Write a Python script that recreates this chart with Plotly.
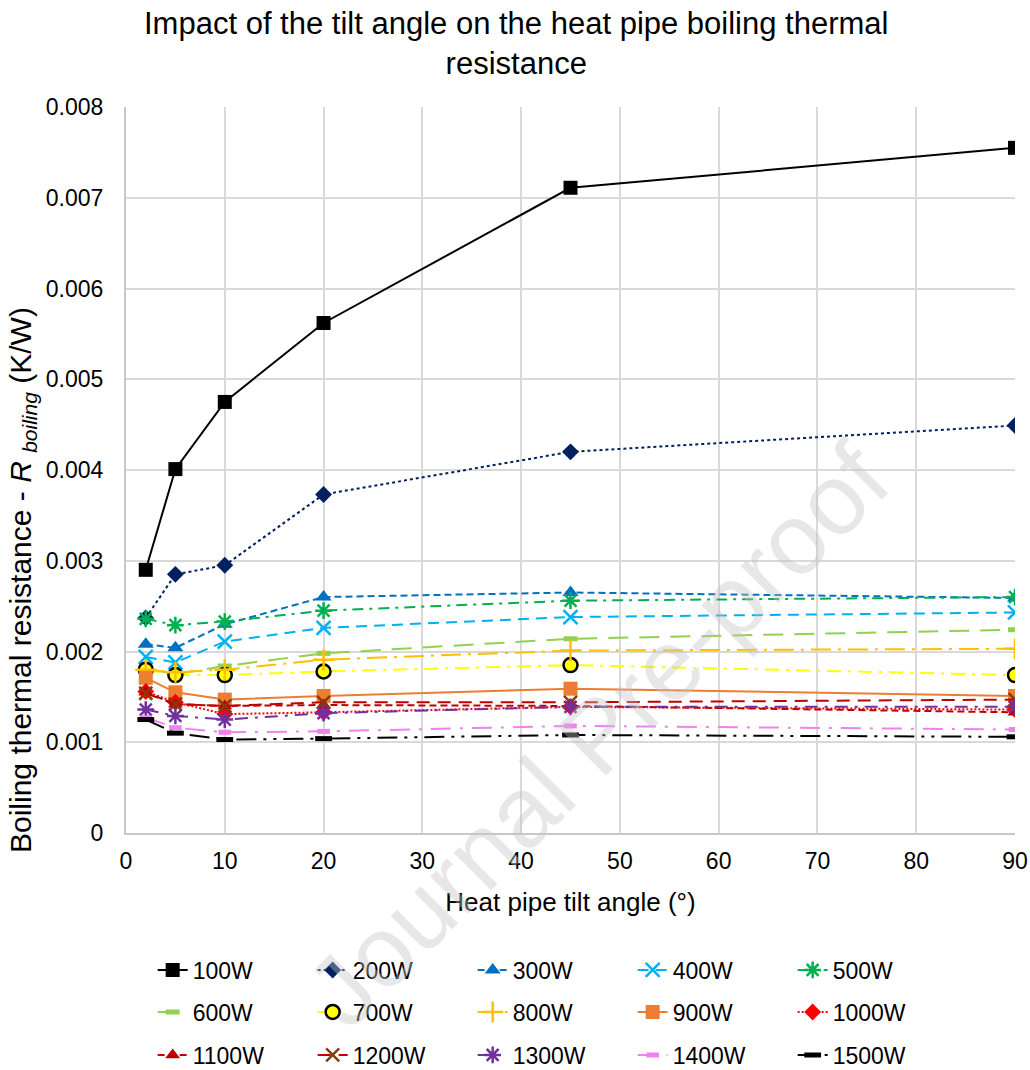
import plotly.graph_objects as go

# Tilt angles (degrees) at which the boiling resistance was measured
tilt_angle = [2, 5, 10, 20, 45, 90]

# Boiling thermal resistance (K/W) for each heat input
r_100w = [0.00290, 0.00401, 0.00475, 0.00562, 0.00711, 0.00755]
r_200w = [0.00237, 0.00285, 0.00295, 0.00373, 0.00420, 0.00449]
r_300w = [0.00208, 0.00204, 0.00230, 0.00260, 0.00265, 0.00259]
r_400w = [0.00194, 0.00188, 0.00211, 0.00226, 0.00238, 0.00243]
r_500w = [0.00236, 0.00229, 0.00233, 0.00245, 0.00256, 0.00260]
r_600w = [0.00181, 0.00175, 0.00184, 0.00198, 0.00214, 0.00224]
r_700w = [0.00180, 0.00174, 0.00174, 0.00178, 0.00185, 0.00174]
r_800w = [0.00180, 0.00177, 0.00180, 0.00191, 0.00201, 0.00203]
r_900w = [0.00171, 0.00155, 0.00147, 0.00151, 0.00159, 0.00151]
r_1000w = [0.00156, 0.00144, 0.00131, 0.00133, 0.00139, 0.00136]
r_1100w = [0.00155, 0.00142, 0.00140, 0.00141, 0.00140, 0.00133]
r_1200w = [0.00154, 0.00142, 0.00140, 0.00144, 0.00144, 0.00147]
r_1300w = [0.00136, 0.00129, 0.00125, 0.00132, 0.00139, 0.00139]
r_1400w = [0.00127, 0.00116, 0.00111, 0.00112, 0.00118, 0.00114]
r_1500w = [0.00125, 0.00110, 0.00103, 0.00104, 0.00108, 0.00106]

series_names = ["100W", "200W", "300W", "400W", "500W",
                "600W", "700W", "800W", "900W", "1000W",
                "1100W", "1200W", "1300W", "1400W", "1500W"]
series_values = [r_100w, r_200w, r_300w, r_400w, r_500w,
                 r_600w, r_700w, r_800w, r_900w, r_1000w,
                 r_1100w, r_1200w, r_1300w, r_1400w, r_1500w]

x_ticks = [0, 10, 20, 30, 40, 50, 60, 70, 80, 90]
y_ticks = [0, 0.001, 0.002, 0.003, 0.004, 0.005, 0.006, 0.007, 0.008]
y_tick_labels = ["0", "0.001", "0.002", "0.003", "0.004", "0.005", "0.006", "0.007", "0.008"]

# (line colour, dash, marker symbol, marker fill, marker outline, marker size, outline width)
styles = [
    ("#000000", "solid", "square", "#000000", "#000000", 14, 0),
    ("#002060", "dot", "diamond", "#002060", "#002060", 13, 0),
    ("#0070C0", "7px,4px", "triangle-up", "#0070C0", "#0070C0", 14, 0),
    ("#00B0F0", "11px,7px", "x-thin-open", "#00B0F0", "#00B0F0", 14, 2.5),
    ("#00B050", "11px,6px,3px,6px", "asterisk-open", "#00B050", "#00B050", 14, 2.5),
    ("#92D050", "20px,11px", "line-ew-open", "#92D050", "#92D050", 10, 5),
    ("#FFFF00", "14px,7px,3px,7px", "circle", "#FFFF00", "#000000", 14, 2.5),
    ("#FFC000", "20px,7px,3px,7px", "cross-thin-open", "#FFC000", "#FFC000", 15, 2.5),
    ("#ED7D31", "solid", "square", "#ED7D31", "#ED7D31", 14, 0),
    ("#FF0000", "2px,2px", "diamond", "#FF0000", "#FF0000", 13, 0),
    ("#C00000", "7px,4px", "triangle-up", "#C00000", "#C00000", 13, 0),
    ("#C00000", "13px,8px", "x-thin-open", "#843C0C", "#843C0C", 13, 2.5),
    ("#7030A0", "13px,7px,3px,7px", "asterisk-open", "#7030A0", "#7030A0", 14, 2.5),
    ("#EE82EE", "20px,9px,3px,9px", "line-ew-open", "#EE82EE", "#EE82EE", 9, 5),
    ("#000000", "20px,7px,3px,7px,3px,7px", "line-ew-open", "#000000", "#000000", 12, 5),
]

# Legend laid out as three rows of five entries
legend_rows = ["legend", "legend2", "legend3"]

fig = go.Figure()
for i, (name, vals, st) in enumerate(zip(series_names, series_values, styles)):
    lc, dash, sym, mfill, mline, msize, mlw = st
    fig.add_trace(go.Scatter(
        x=tilt_angle, y=vals, name=name, mode="lines+markers",
        line=dict(color=lc, width=2, dash=dash),
        marker=dict(symbol=sym, size=msize, color=mfill,
                    line=dict(color=mline, width=mlw)),
        legend=legend_rows[i // 5],
    ))

font_family = "Liberation Sans, Arial, sans-serif"

plot_left, plot_right = 126, 1015
plot_top, plot_bottom = 107, 833
plot_w = plot_right - plot_left
plot_h = plot_bottom - plot_top


def row_legend(center_px):
    return dict(
        orientation="h", x=0.03, xanchor="left",
        y=-(center_px - plot_bottom) / plot_h, yanchor="middle",
        entrywidth=115, entrywidthmode="pixels",
        font=dict(size=23, color="#000000"), bgcolor="rgba(0,0,0,0)",
    )


fig.update_layout(
    width=1030, height=1070,
    paper_bgcolor="white", plot_bgcolor="white",
    margin=dict(l=plot_left, r=1030 - plot_right, t=plot_top, b=1070 - plot_bottom,
                autoexpand=False),
    font=dict(family=font_family, size=22, color="#000000"),
    xaxis=dict(
        range=[0, 90], tickvals=x_ticks, ticktext=[str(v) for v in x_ticks],
        showgrid=True, gridcolor="#d9d9d9", gridwidth=2,
        showline=True, linecolor="#c8c8c8", linewidth=2,
        zeroline=False, ticks="", automargin=False,
        tickfont=dict(size=23, color="#000000"), ticklabelstandoff=6,
        title=dict(text="Heat pipe tilt angle (°)", font=dict(size=26, color="#000000"), standoff=20),
    ),
    yaxis=dict(
        range=[0, 0.008], tickvals=y_ticks, ticktext=y_tick_labels,
        showgrid=True, gridcolor="#d9d9d9", gridwidth=2,
        showline=True, linecolor="#c8c8c8", linewidth=2,
        zeroline=False, ticks="", automargin=False,
        tickfont=dict(size=23, color="#000000"), ticklabelstandoff=16,
    ),
    legend=row_legend(970),
    legend2=row_legend(1012),
    legend3=row_legend(1055),
    showlegend=True,
)

# Two-line chart title, centred on the whole figure
fig.add_annotation(
    text="Impact of the tilt angle on the heat pipe boiling thermal<br>resistance",
    xref="paper", yref="paper", x=(516 - plot_left) / plot_w, y=(plot_bottom - 4) / plot_h,
    xanchor="center", yanchor="top", showarrow=False,
    font=dict(size=31, color="#000000"),
)

# Vertical axis title, placed beside the tick labels
fig.add_annotation(
    text="Boiling thermal resistance - <i>R</i> <sub><i>boiling</i></sub> (K/W)",
    xref="paper", yref="paper", x=(22 - plot_left) / plot_w, y=(plot_bottom - 580) / plot_h,
    xanchor="center", yanchor="middle", textangle=-90, showarrow=False,
    font=dict(size=30, color="#000000"),
)

# Diagonal "Journal Pre-proof" watermark
fig.add_annotation(
    text="Journal Pre-proof", xref="paper", yref="paper",
    x=(597 - plot_left) / plot_w, y=(plot_bottom - 735) / plot_h,
    xanchor="center", yanchor="middle",
    showarrow=False, textangle=-45,
    font=dict(size=100, color="rgba(195,195,195,0.4)", family=font_family),
)

fig.write_html("out.html")
